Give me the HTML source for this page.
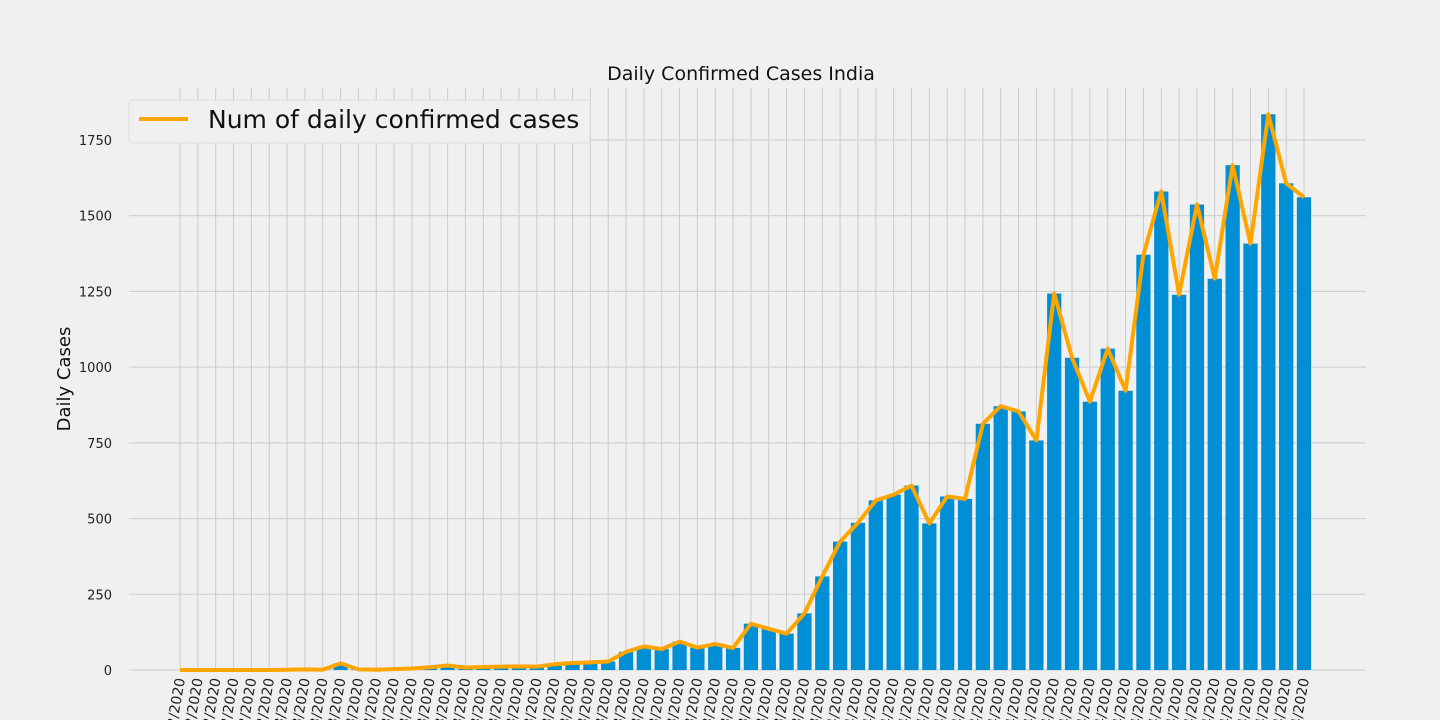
<!DOCTYPE html>
<html><head><meta charset="utf-8"><style>
html,body{margin:0;background:#f0f0f0;width:1440px;height:720px;overflow:hidden;}
svg{display:block;overflow:hidden;font-family:"DejaVu Sans","Liberation Sans",sans-serif;}
</style></head><body>
<svg id="chart" width="1440" height="720">
<rect width="1440" height="720" fill="#f0f0f0"/>
<g id="grid"></g><g id="bars"></g><g id="line"></g><g id="yt"></g><g id="xt"></g>
<text x="741" y="80" text-anchor="middle" font-size="19" fill="#111">Daily Confirmed Cases India</text>
<text transform="translate(70,379) rotate(-90)" text-anchor="middle" font-size="18" fill="#111">Daily Cases</text>
<g>
<rect x="129" y="100" width="461" height="43" rx="3" fill="#f0f0f0" stroke="#dcdcdc"/>
<line x1="139" y1="119" x2="188" y2="119" stroke="#ffa500" stroke-width="4"/>
<text x="208" y="128" font-size="25" fill="#111">Num of daily confirmed cases</text>
</g>
</svg>
<script>
const values=[0,0,0,0,0,0,1,2,1,22,2,1,3,5,9,15,8,10,11,12,11,19,23,25,28,60,78,69,94,74,86,73,153,136,120,187,309,424,486,560,579,609,484,573,565,813,871,854,758,1243,1031,886,1061,922,1371,1580,1239,1537,1292,1667,1408,1835,1607,1561];
const yTicks=[0,250,500,750,1000,1250,1500,1750];
const startDay=24;
const NS="http://www.w3.org/2000/svg";
function labelFor(i){const d=new Date(2020,1,startDay+i);return String(d.getDate()).padStart(2,'0')+'/'+String(d.getMonth()+1).padStart(2,'0')+'/2020';}
function xs(i){return 180+i*(1124/(values.length-1||1));}
function ys(v){return 670-v*530/1750;}
function mk(t,a,p){const e=document.createElementNS(NS,t);for(const k in a)e.setAttribute(k,a[k]);p.appendChild(e);return e;}
const grid=document.getElementById('grid'),bars=document.getElementById('bars'),line=document.getElementById('line'),yt=document.getElementById('yt'),xt=document.getElementById('xt');
yTicks.forEach(v=>{const g=mk('line',{x1:129,x2:1366,y1:ys(v),y2:ys(v),stroke:'#cbcbcb','stroke-width':1},grid);


const t=mk('text',{x:112,y:ys(v)+5,'text-anchor':'end','font-size':13,fill:'#222'},yt);t.textContent=v;

});
const bw=(1124/(values.length-1))*0.8;
values.forEach((v,i)=>{const x=xs(i);
const g=mk('line',{x1:x,x2:x,y1:88,y2:670,stroke:'#cbcbcb','stroke-width':1},grid);


const b=mk('rect',{x:x-bw/2,y:ys(v),width:bw,height:670-ys(v),fill:'#008fd5'},bars);


const t=mk('text',{transform:`translate(${x+5},${679}) rotate(-80)`,'text-anchor':'end','font-size':14,fill:'#222'},xt);t.textContent=labelFor(i);

});
const pl=mk('polyline',{points:values.map((v,i)=>xs(i)+','+ys(v)).join(' '),fill:'none',stroke:'#ffa500','stroke-width':4,'stroke-linejoin':'round'},line);


</script>
</body></html>
